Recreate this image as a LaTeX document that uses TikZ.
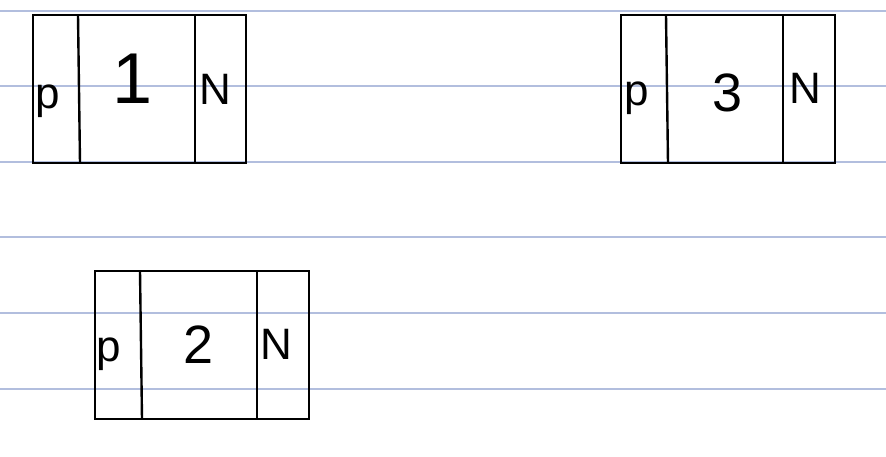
\documentclass[tikz,border=0pt]{standalone}
\usepackage{fontspec}
\setmainfont{Liberation Sans}
\begin{document}
\begin{tikzpicture}[x=1pt,y=-1pt,
  rule/.style={draw={rgb,255:red,178;green,190;blue,222},line width=1.1pt},
  cell/.style={draw=black,line width=2.8pt,line join=miter},
  div/.style={draw=black,line width=2.4pt},
  lbl/.style={inner sep=0pt,anchor=center,text=black},
  pn/.style={lbl,font=\fontsize{44}{44}\selectfont},
  num/.style={lbl,font=\fontsize{54}{54}\selectfont}]
\useasboundingbox (0,0) rectangle (886,456);
\foreach \y in {11,86,162,237,313,389} \draw[rule] (0,\y) -- (886,\y);
% box 1
\draw[cell] (33,15) rectangle (246,163);
\draw[div] (78,15) -- (80,163);
\draw[div] (195,15) -- (195,163);
\node[pn] (p1) at (48,101) {p};
\node[num,font=\fontsize{72}{72}\selectfont] (n1) at (133,79) {1};
\node[pn] (N1) at (215,89) {N};
% box 3
\draw[cell] (621,15) rectangle (835,163);
\draw[div] (666,15) -- (668,163);
\draw[div] (783,15) -- (783,163);
\node[pn] (p3) at (637,98) {p};
\node[num] (n3) at (728,93) {3};
\node[pn] (N3) at (805,88) {N};
% box 2
\draw[cell] (95,271) rectangle (309,419);
\draw[div] (140,271) -- (142,419);
\draw[div] (257,271) -- (257,419);
\node[pn] (p2) at (109,354) {p};
\node[num] (n2) at (199,345) {2};
\node[pn] (N2) at (276,344) {N};
\end{tikzpicture}
\end{document}
